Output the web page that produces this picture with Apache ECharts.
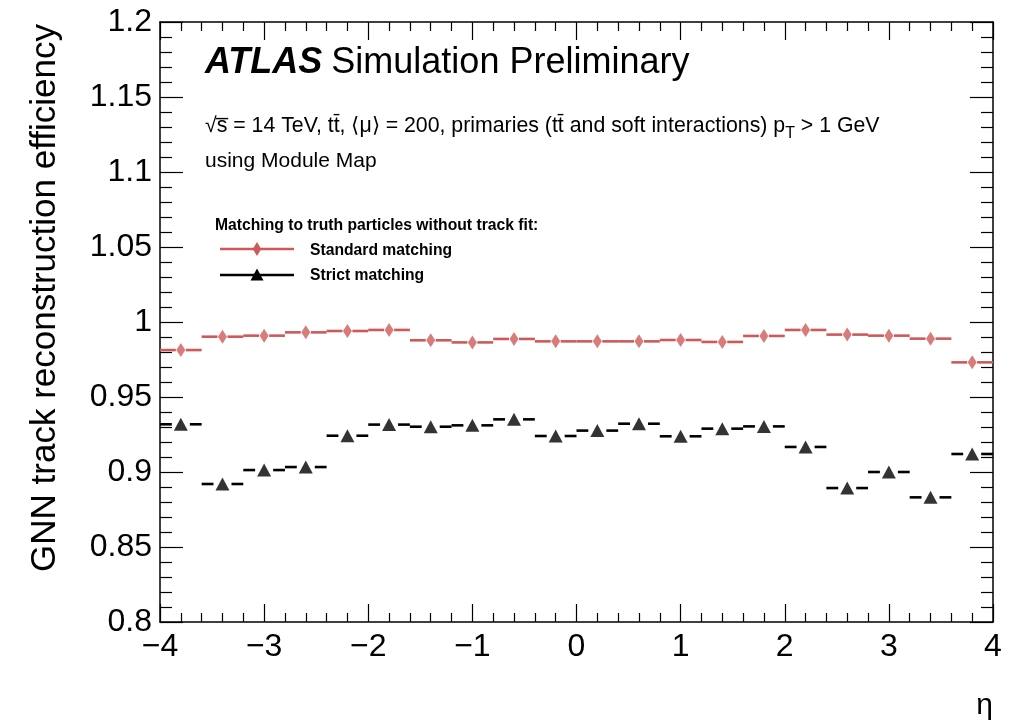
<!DOCTYPE html>
<html>
<head>
<meta charset="utf-8">
<script src="https://cdn.jsdelivr.net/npm/echarts@6/dist/echarts.min.js"></script>
<style>
  html, body { margin: 0; padding: 0; background: #fff; }
  #chart { width: 1028px; height: 721px; }
</style>
</head>
<body>
<div id="chart"></div>
<script>
// eta bin centres (bin width 0.4)
const etaCentres = [-3.8, -3.4, -3.0, -2.6, -2.2, -1.8, -1.4, -1.0, -0.6, -0.2,
                     0.2,  0.6,  1.0,  1.4,  1.8,  2.2,  2.6,  3.0,  3.4,  3.8];
const binHalfWidth = 0.2;

// efficiency per eta bin
const standardMatching = [0.9813, 0.9902, 0.9909, 0.9931, 0.9940, 0.9947, 0.9878, 0.9864, 0.9887, 0.9871,
                          0.9871, 0.9871, 0.9880, 0.9867, 0.9907, 0.9947, 0.9916, 0.9909, 0.9889, 0.9731];
const strictMatching   = [0.9318, 0.8920, 0.9013, 0.9033, 0.9242, 0.9316, 0.9302, 0.9311, 0.9351, 0.9240,
                          0.9276, 0.9322, 0.9238, 0.9289, 0.9304, 0.9167, 0.8893, 0.9000, 0.8831, 0.9120];

const xTicks = [-4, -3, -2, -1, 0, 1, 2, 3, 4];
const yTicks = [0.8, 0.85, 0.9, 0.95, 1, 1.05, 1.1, 1.15, 1.2];

const RED = '#cd5a5a';
const BLACK = '#000000';
const FONT = '"Liberation Sans", Arial, Helvetica, sans-serif';

const chart = echarts.init(document.getElementById('chart'), null, { renderer: 'canvas' });

function pairs(vals) {
  return etaCentres.map((x, i) => [x, vals[i]]);
}

// horizontal bin-width bars with a gap around the marker
function binBars(color, gap) {
  return function (params, api) {
    const x = api.value(0), y = api.value(1);
    const pL = api.coord([x - binHalfWidth, y]);
    const pC = api.coord([x, y]);
    const pR = api.coord([x + binHalfWidth, y]);
    const style = { stroke: color, lineWidth: 2.6 };
    return {
      type: 'group',
      children: [
        { type: 'line', shape: { x1: pL[0], y1: pL[1], x2: pC[0] - gap, y2: pC[1] }, style },
        { type: 'line', shape: { x1: pC[0] + gap, y1: pC[1], x2: pR[0], y2: pR[1] }, style }
      ]
    };
  };
}

const diamondPath = 'path://M0,-7L4.2,0L0,7L-4.2,0Z';
const trianglePath = 'path://M0,-6.5L6.5,5.5L-6.5,5.5Z';

function axisCommon(extra) {
  return Object.assign({
    type: 'value',
    axisLine: { show: true, onZero: false, lineStyle: { color: '#000', width: 1.5 } },
    splitLine: { show: false },
  }, extra);
}

const tickStyle = { color: '#000', width: 1.2 };

const option = {
  animation: false,
  backgroundColor: '#fff',
  grid: { left: 160, right: 35, top: 22, bottom: 99, containLabel: false },
  xAxis: [
    axisCommon({
      min: -4, max: 4, interval: 1, position: 'bottom',
      axisTick: { show: true, inside: true, length: 18, lineStyle: tickStyle },
      minorTick: { show: true, splitNumber: 5, length: 9, lineStyle: tickStyle },
      axisLabel: {
        color: '#000', fontSize: 32, fontFamily: FONT, margin: 9,
        formatter: v => (v < 0 ? '\u2212' + Math.abs(v) : String(v))
      }
    }),
    axisCommon({
      min: -4, max: 4, interval: 1, position: 'top',
      axisTick: { show: true, inside: true, length: 18, lineStyle: tickStyle },
      minorTick: { show: true, splitNumber: 5, length: 9, lineStyle: tickStyle },
      axisLabel: { show: false }
    })
  ],
  yAxis: [
    axisCommon({
      min: 0.8, max: 1.2, interval: 0.05, position: 'left',
      axisTick: { show: true, inside: true, length: 23, lineStyle: tickStyle },
      minorTick: { show: true, splitNumber: 5, length: 12, lineStyle: tickStyle },
      axisLabel: {
        color: '#000', fontSize: 32, fontFamily: FONT, margin: 8,
        formatter: v => String(Math.round(v * 100) / 100)
      }
    }),
    axisCommon({
      min: 0.8, max: 1.2, interval: 0.05, position: 'right',
      axisTick: { show: true, inside: true, length: 23, lineStyle: tickStyle },
      minorTick: { show: true, splitNumber: 5, length: 12, lineStyle: tickStyle },
      axisLabel: { show: false }
    })
  ],
  series: [
    {
      name: 'Standard matching bars', type: 'custom', xAxisIndex: 0, yAxisIndex: 0,
      data: pairs(standardMatching), renderItem: binBars(RED, 5), z: 2
    },
    {
      name: 'Standard matching', type: 'scatter', xAxisIndex: 0, yAxisIndex: 0,
      data: pairs(standardMatching), symbol: diamondPath, symbolSize: [9, 14],
      itemStyle: { color: RED }, z: 3
    },
    {
      name: 'Strict matching bars', type: 'custom', xAxisIndex: 0, yAxisIndex: 0,
      data: pairs(strictMatching), renderItem: binBars(BLACK, 9), z: 2
    },
    {
      name: 'Strict matching', type: 'scatter', xAxisIndex: 0, yAxisIndex: 0,
      data: pairs(strictMatching), symbol: trianglePath, symbolSize: [14, 13],
      itemStyle: { color: BLACK }, z: 3
    }
  ],
  graphic: [
    // axis titles
    {
      type: 'text', x: 45, y: 24, rotation: Math.PI / 2,
      style: {
        text: 'GNN track reconstruction efficiency', fill: '#000',
        font: '35px ' + FONT, align: 'right', verticalAlign: 'middle'
      }
    },
    {
      type: 'text', x: 993, y: 706,
      style: { text: '\u03b7', fill: '#000', font: '30px ' + FONT, align: 'right', verticalAlign: 'middle' }
    },
    // experiment label
    {
      type: 'text', x: 205, y: 63,
      style: {
        text: '{b|ATLAS}{n|Simulation Preliminary}',
        verticalAlign: 'middle',
        rich: {
          b: { font: 'italic bold 36px ' + FONT, fill: '#000', padding: [0, 9, 0, 0] },
          n: { font: '36px ' + FONT, fill: '#000' }
        }
      }
    },
    {
      type: 'text', x: 205, y: 126,
      style: {
        text: '{n|\u221as\u0305 = 14 TeV, tt\u0304, \u27e8\u03bc\u27e9 = 200, primaries (tt\u0304 and soft interactions) p}{s|T}{n| > 1 GeV}',
        verticalAlign: 'middle',
        rich: {
          n: { font: '21.3px ' + FONT, fill: '#000' },
          s: { font: '16px ' + FONT, fill: '#000', padding: [16, 0, 0, 0] }
        }
      }
    },
    {
      type: 'text', x: 205, y: 161,
      style: { text: 'using Module Map', fill: '#000', font: '21px ' + FONT, verticalAlign: 'middle' }
    },
    // legend
    {
      type: 'text', x: 215, y: 226,
      style: { text: 'Matching to truth particles without track fit:', fill: '#000', font: 'bold 15.7px ' + FONT, verticalAlign: 'middle' }
    },
    { type: 'line', shape: { x1: 220, y1: 249, x2: 294, y2: 249 }, style: { stroke: RED, lineWidth: 2.6 } },
    { type: 'polygon', shape: { points: [[257, 242], [261.2, 249], [257, 256], [252.8, 249]] }, style: { fill: RED } },
    {
      type: 'text', x: 310, y: 251,
      style: { text: 'Standard matching', fill: '#000', font: 'bold 15.7px ' + FONT, verticalAlign: 'middle' }
    },
    { type: 'line', shape: { x1: 220, y1: 275, x2: 294, y2: 275 }, style: { stroke: BLACK, lineWidth: 2.6 } },
    { type: 'polygon', shape: { points: [[257, 268.5], [263.5, 280.5], [250.5, 280.5]] }, style: { fill: BLACK } },
    {
      type: 'text', x: 310, y: 276,
      style: { text: 'Strict matching', fill: '#000', font: 'bold 15.7px ' + FONT, verticalAlign: 'middle' }
    }
  ]
};

chart.setOption(option);
</script>
</body>
</html>
